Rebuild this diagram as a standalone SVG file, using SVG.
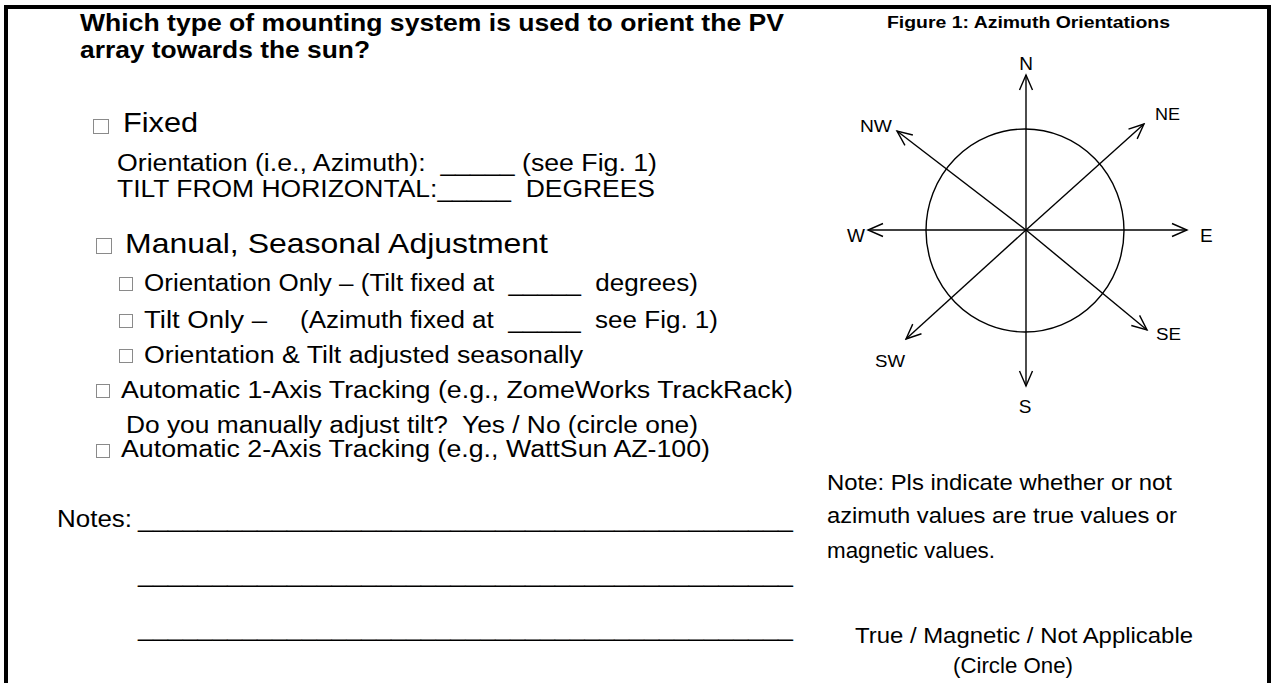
<svg xmlns="http://www.w3.org/2000/svg" width="1273" height="683" viewBox="0 0 1273 683">
<style>
text{font-family:"Liberation Sans",Arial,sans-serif;fill:#000;white-space:pre}
.b{font-weight:bold}
.t{font-size:23px}
.big{font-size:28px}
.h{font-size:24px}
.r{font-size:21.5px}
.c{font-size:19px}
.d{font-size:16px}
.box{fill:none;stroke:#8a8a8a;stroke-width:1}
.ax{stroke:#000;stroke-width:1.4;fill:none}
</style>
<defs>
<marker id="arr" markerUnits="userSpaceOnUse" markerWidth="18" markerHeight="18" viewBox="0 0 18 18" refX="16" refY="9" orient="auto">
<path d="M1,2.5 L16,9 L1,15.5" fill="none" stroke="#000" stroke-width="1.4"/>
</marker>
</defs>
<rect width="1273" height="683" fill="#fff"/>
<g id="frame">
<rect x="4" y="5" width="1267" height="4" fill="#000"/>
<rect x="4" y="5" width="4" height="678" fill="#000"/>
<rect x="1267" y="5" width="4" height="678" fill="#000"/>
</g>
<g id="question">
<text class="h b" x="80" y="31" textLength="704" lengthAdjust="spacingAndGlyphs">Which type of mounting system is used to orient the PV</text>
<text class="h b" x="80" y="58" textLength="290" lengthAdjust="spacingAndGlyphs">array towards the sun?</text>
</g>
<g id="opt-fixed">
<rect class="box" x="93.5" y="119.5" width="15" height="14"/>
<text class="big" x="123" y="132" textLength="75" lengthAdjust="spacingAndGlyphs">Fixed</text>
<text class="t" x="117" y="171" textLength="540" lengthAdjust="spacingAndGlyphs">Orientation (i.e., Azimuth):  _____ (see Fig. 1)</text>
<text class="t" x="117" y="197" textLength="538" lengthAdjust="spacingAndGlyphs">TILT FROM HORIZONTAL:_____  DEGREES</text>
</g>
<g id="opt-manual">
<rect class="box" x="96.5" y="238.5" width="15" height="15"/>
<text class="big" x="125" y="253" textLength="423" lengthAdjust="spacingAndGlyphs">Manual, Seasonal Adjustment</text>
</g>
<g id="opt-orientation-only">
<rect class="box" x="119.5" y="277.5" width="13" height="13"/>
<text class="t" x="144" y="291" textLength="554" lengthAdjust="spacingAndGlyphs">Orientation Only – (Tilt fixed at  _____  degrees)</text>
</g>
<g id="opt-tilt-only">
<rect class="box" x="119.5" y="314.5" width="13" height="13"/>
<text class="t" x="144" y="328" textLength="123" lengthAdjust="spacingAndGlyphs">Tilt Only –</text>
<text class="t" x="300" y="328" textLength="418" lengthAdjust="spacingAndGlyphs">(Azimuth fixed at  _____  see Fig. 1)</text>
</g>
<g id="opt-both">
<rect class="box" x="119.5" y="349.5" width="13" height="13"/>
<text class="t" x="144" y="363" textLength="439" lengthAdjust="spacingAndGlyphs">Orientation &amp; Tilt adjusted seasonally</text>
</g>
<g id="opt-1axis">
<rect class="box" x="96.5" y="384.5" width="13" height="13"/>
<text class="t" x="121" y="398" textLength="672" lengthAdjust="spacingAndGlyphs">Automatic 1-Axis Tracking (e.g., ZomeWorks TrackRack)</text>
<text class="t" x="126" y="433" textLength="572" lengthAdjust="spacingAndGlyphs">Do you manually adjust tilt?  Yes / No (circle one)</text>
</g>
<g id="opt-2axis">
<rect class="box" x="96.5" y="444.5" width="13" height="13"/>
<text class="t" x="121" y="457" textLength="589" lengthAdjust="spacingAndGlyphs">Automatic 2-Axis Tracking (e.g., WattSun AZ-100)</text>
</g>
<g id="notes">
<text class="t" x="57" y="527" textLength="75" lengthAdjust="spacingAndGlyphs">Notes:</text>
<text class="t" x="138" y="527" textLength="655" lengthAdjust="spacingAndGlyphs">____________________________________________</text>
<text class="t" x="138" y="582" textLength="655" lengthAdjust="spacingAndGlyphs">____________________________________________</text>
<text class="t" x="138" y="636" textLength="655" lengthAdjust="spacingAndGlyphs">____________________________________________</text>
</g>
<g id="figure-title">
<text class="b" style="font-size:16px" x="887" y="28" textLength="283" lengthAdjust="spacingAndGlyphs">Figure 1: Azimuth Orientations</text>
</g>
<g id="compass-circle">
<ellipse cx="1025" cy="230.5" rx="99" ry="101.5" fill="none" stroke="#000" stroke-width="1.4"/>
</g>
<g id="connectors">
<line class="ax" x1="1026" y1="230" x2="1026" y2="75" marker-end="url(#arr)"/>
<line class="ax" x1="1026" y1="230" x2="1026" y2="386" marker-end="url(#arr)"/>
<line class="ax" x1="1026" y1="230" x2="1187" y2="230" marker-end="url(#arr)"/>
<line class="ax" x1="1026" y1="230" x2="868" y2="230" marker-end="url(#arr)"/>
<line class="ax" x1="1026" y1="230" x2="1144" y2="124" marker-end="url(#arr)"/>
<line class="ax" x1="1026" y1="230" x2="897" y2="131" marker-end="url(#arr)"/>
<line class="ax" x1="1026" y1="230" x2="1147" y2="330" marker-end="url(#arr)"/>
<line class="ax" x1="1026" y1="230" x2="906" y2="339" marker-end="url(#arr)"/>
</g>
<g id="label-n"><text class="c" x="1026" y="70" text-anchor="middle">N</text></g>
<g id="label-s"><text class="c" x="1025" y="413" text-anchor="middle">S</text></g>
<g id="label-e"><text class="c" x="1200" y="242">E</text></g>
<g id="label-w"><text class="c" x="847" y="242">W</text></g>
<g id="label-ne"><text class="d" x="1155" y="120" textLength="25" lengthAdjust="spacingAndGlyphs">NE</text></g>
<g id="label-nw"><text class="d" x="860" y="132" textLength="32" lengthAdjust="spacingAndGlyphs">NW</text></g>
<g id="label-se"><text class="d" x="1156" y="340" textLength="25" lengthAdjust="spacingAndGlyphs">SE</text></g>
<g id="label-sw"><text class="d" x="875" y="367" textLength="30" lengthAdjust="spacingAndGlyphs">SW</text></g>
<g id="azimuth-note">
<text class="r" x="827" y="490" textLength="345" lengthAdjust="spacingAndGlyphs">Note: Pls indicate whether or not</text>
<text class="r" x="827" y="523" textLength="350" lengthAdjust="spacingAndGlyphs">azimuth values are true values or</text>
<text class="r" x="827" y="558" textLength="168" lengthAdjust="spacingAndGlyphs">magnetic values.</text>
<text class="r" x="855" y="643" textLength="338" lengthAdjust="spacingAndGlyphs">True / Magnetic / Not Applicable</text>
<text class="r" x="953" y="673" textLength="120" lengthAdjust="spacingAndGlyphs">(Circle One)</text>
</g>
</svg>
